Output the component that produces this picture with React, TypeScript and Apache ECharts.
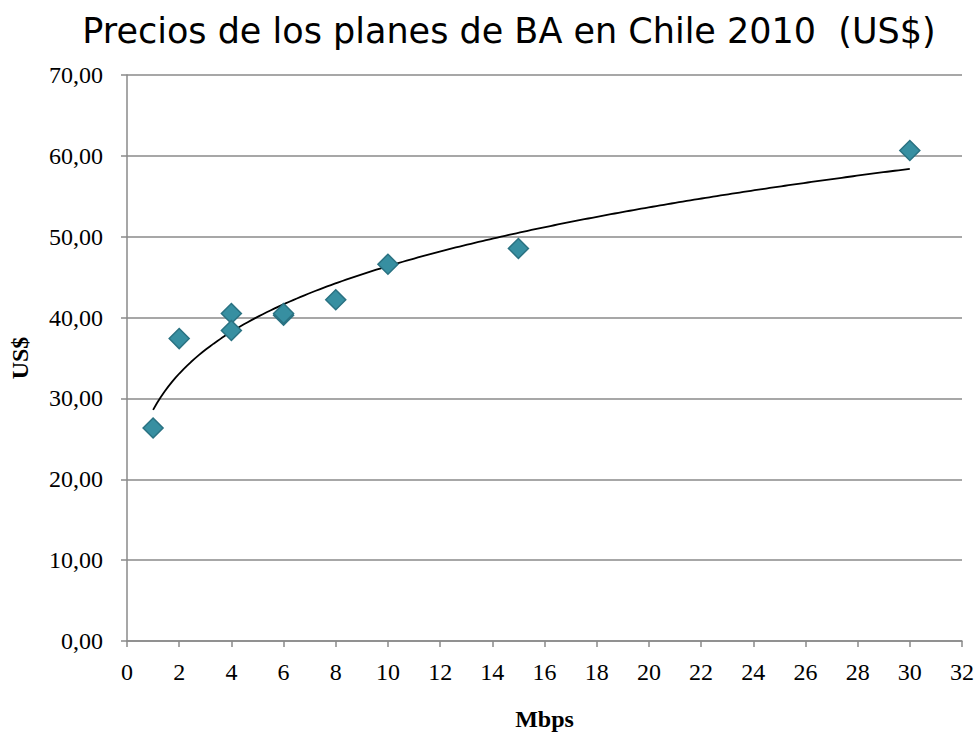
import React, { useEffect, useRef } from "react";
import * as echarts from "echarts";

const speedsMbps: number[] = [1, 2, 4, 4, 6, 6, 8, 10, 15, 30];
const pricesUSD: number[] = [26.35, 37.4, 40.5, 38.4, 40.3, 40.5, 42.2, 46.6, 48.55, 60.67];
const yTicks: number[] = [0, 10, 20, 30, 40, 50, 60, 70];
const titleText = "Precios de los planes de BA en Chile 2010  (US$)";

// Power trendline (like the spreadsheet's): least-squares fit of ln(y) on ln(x) from the data above
function powerTrend(xs: number[], ys: number[]) {
  const lx = xs.map((x) => Math.log(x));
  const ly = ys.map((y) => Math.log(y));
  const n = xs.length;
  const mx = lx.reduce((a, b) => a + b, 0) / n;
  const my = ly.reduce((a, b) => a + b, 0) / n;
  let sxy = 0, sxx = 0;
  for (let i = 0; i < n; i++) {
    sxy += (lx[i] - mx) * (ly[i] - my);
    sxx += (lx[i] - mx) * (lx[i] - mx);
  }
  const b = sxy / sxx;
  const a = Math.exp(my - b * mx);
  const xmin = Math.min(...xs);
  const xmax = Math.max(...xs);
  const pts: number[][] = [];
  const steps = 200;
  for (let i = 0; i <= steps; i++) {
    const x = xmin + ((xmax - xmin) * i) / steps;
    pts.push([x, a * Math.pow(x, b)]);
  }
  return pts;
}

export default function App() {
  const ref = useRef<HTMLDivElement>(null);
  useEffect(() => {
    if (!ref.current) return;
    const chart = echarts.init(ref.current, null, { renderer: "svg" });
    const serif = "'Liberation Serif', 'DejaVu Serif', serif";
    const gridGray = "#8a8a8a";
    chart.setOption({
      animation: false,
      backgroundColor: "#ffffff",
      title: {
        text: titleText,
        left: 504,
        top: 8,
        textAlign: "center",
        textStyle: {
          fontFamily: "'DejaVu Sans', sans-serif",
          fontWeight: "normal",
          fontSize: 35,
          color: "#000000",
        },
      },
      grid: { left: 125, top: 75, width: 837, height: 580, containLabel: false },
      xAxis: {
        type: "value",
        min: 0,
        max: 32,
        interval: 2,
        name: "Mbps",
        nameLocation: "middle",
        nameGap: 66,
        nameTextStyle: { fontFamily: serif, fontWeight: "bold", fontSize: 24, color: "#000" },
        axisLine: { show: true, lineStyle: { color: gridGray, width: 1.5 } },
        axisTick: { show: true, inside: false, length: 6, lineStyle: { color: gridGray, width: 1.5 } },
        axisLabel: { margin: 19, fontFamily: serif, fontSize: 24, color: "#000" },
        splitLine: { show: false },
      },
      yAxis: {
        type: "value",
        min: 0,
        max: 70,
        interval: 10,
        name: "US$",
        nameLocation: "middle",
        nameGap: 95,
        nameRotate: 90,
        nameTextStyle: { fontFamily: serif, fontWeight: "bold", fontSize: 24, color: "#000" },
        axisLine: { show: true, lineStyle: { color: gridGray, width: 1.5 } },
        axisTick: { show: true, inside: false, length: 6, lineStyle: { color: gridGray, width: 1.5 } },
        axisLabel: {
          margin: 24,
          fontFamily: serif,
          fontSize: 24,
          color: "#000",
          formatter: (v: number) => (yTicks.includes(v) ? v.toFixed(2).replace(".", ",") : ""),
        },
        splitLine: { show: true, lineStyle: { color: gridGray, width: 1.5 } },
      },
      series: [
        {
          type: "line",
          data: powerTrend(speedsMbps, pricesUSD),
          showSymbol: false,
          symbol: "none",
          smooth: false,
          lineStyle: { color: "#000000", width: 1.8 },
          z: 3,
        },
        {
          type: "scatter",
          data: speedsMbps.map((x, i) => [x, pricesUSD[i]]),
          symbol: "diamond",
          symbolSize: 20,
          itemStyle: { color: "#378fa1", borderColor: "#2a7282", borderWidth: 1.5, opacity: 1 },
          z: 4,
        },
      ],
    });
    return () => chart.dispose();
  }, []);
  return (
    <div
      ref={ref}
      style={{ position: "fixed", left: 0, top: 0, width: 977, height: 736 }}
    />
  );
}
